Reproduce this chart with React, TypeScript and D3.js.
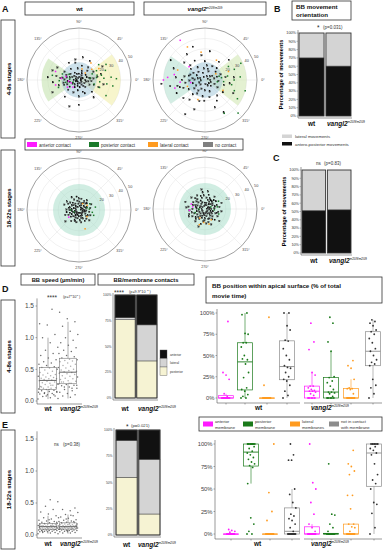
import React, { useEffect, useRef } from 'react';
import { select, scaleLinear, scaleBand, arc, quantile, ascending } from 'd3';

const FONT = '"Liberation Sans", Arial, sans-serif';

// ---- panel A: polar plots, points are [angle in degrees, distance]
const angleTicks = [0, 45, 90, 135, 180, 225, 270, 315];
const ringValues = [10, 20, 30, 40];
const radialLabels = [20, 30, 40, 50];
const contactNames = ['anterior contact', 'posterior contact', 'lateral contact', 'no contact'];
const contactColors = ['#ff1aff', '#1a7a2a', '#ff9b1f', '#808080'];

const wtEarlyNone = [[0,6],[12,10],[24,4],[36,8],[48,12],[60,5],[72,9],[84,3],[96,11],[108,6],[120,8],[132,4],[144,10],[156,7],[168,12],[180,5],[192,9],[204,3],[216,11],[228,6],[240,8],[252,4],[264,10],[276,7],[288,12],[300,5],[312,9],[324,3],[336,11],[348,7],[6,14],[30,16],[54,15],[78,14],[102,17],[126,13],[150,16],[174,18],[198,15],[222,14],[246,13],[270,16],[294,14],[318,17],[342,15],[18,2],[42,3],[66,7],[90,6],[114,2],[138,6],[162,3],[186,2],[210,7],[234,2],[258,6],[282,3],[306,7],[330,6],[354,2],[170,22],[185,25],[160,27],[195,20],[150,24],[205,28],[15,22],[350,24],[30,26],[340,20],[100,20],[270,24],[250,27],[80,22],[120,19],[230,21],[310,22],[60,21],[175,30],[190,15],[165,9],[200,12],[178,14],[10,18],[355,12],[20,8],[172,16],[188,11],[158,13],[8,11],[352,9]];
const wtEarlyPost = [[12,22],[5,31],[352,27],[20,27],[8,17],[28,19],[340,21],[2,36],[25,14],[175,9],[190,13],[160,17],[200,21],[330,30],[38,24],[10,11],[345,15],[182,19],[150,11],[4,24],[350,33],[30,30],[200,6],[170,26],[15,18],[355,20]];
const wtEarlyAnt = [[175,17],[165,13],[186,10],[200,8],[192,23],[212,13],[230,9],[160,24]];
const wtEarlyLat = [[40,16],[55,20],[30,22],[75,11],[48,9]];

const mutEarlyNone = [[0,5],[15,12],[30,8],[45,16],[60,4],[75,11],[90,18],[105,7],[120,14],[135,20],[150,9],[165,16],[180,22],[195,12],[210,18],[225,6],[240,15],[255,21],[270,10],[285,17],[300,23],[315,8],[330,14],[345,19],[8,20],[22,3],[38,13],[52,22],[68,9],[82,14],[98,24],[112,3],[128,10],[142,17],[158,5],[172,12],[188,19],[202,6],[218,13],[232,24],[248,9],[262,16],[278,4],[292,12],[308,19],[322,5],[338,10],[352,24],[5,28],[40,30],[80,28],[125,30],[160,32],[175,28],[190,34],[205,30],[220,27],[250,30],[290,28],[335,30],[150,38],[185,42],[240,38],[300,36],[110,34],[10,9],[35,6],[62,15],[95,11],[118,21],[148,13],[168,7],[182,15],[196,25],[212,10],[238,12],[268,20],[296,6],[326,21],[356,13],[170,20],[178,10],[186,4],[192,27],[160,15],[200,22],[20,16],[340,6],[140,26],[230,18]];
const mutEarlyPost = [[10,22],[350,26],[20,30],[5,34],[340,30],[30,26],[355,18],[15,14],[330,36],[0,28],[345,40],[25,38],[315,45],[300,37],[8,16],[352,12]];
const mutEarlyAnt = [[122,45],[180,40],[176,36],[170,30],[185,24],[195,30],[140,20],[190,14]];
const mutEarlyLat = [[118,36],[98,27],[60,22],[30,12],[200,18],[250,20],[330,20],[20,24],[160,28]];

const wtLateNone = [[0,5],[20,8],[40,6],[60,10],[80,4],[100,9],[120,7],[140,11],[160,5],[180,9],[200,6],[220,10],[240,4],[260,8],[280,12],[300,6],[320,9],[340,4],[10,11],[30,3],[50,12],[70,7],[90,11],[110,3],[130,9],[150,12],[170,3],[190,12],[210,8],[230,3],[250,11],[270,6],[290,3],[310,11],[330,7],[350,10],[5,2],[45,9],[95,6],[135,4],[175,7],[215,5],[255,5],[295,9],[335,12],[15,7],[65,5],[115,11],[165,9],[205,11],[245,8],[285,8],[325,4],[355,7],[25,13],[145,14],[195,4],[235,13],[275,10],[315,14],[160,15],[200,14],[120,14],[220,17],[100,13],[40,10],[8,4],[28,6],[48,3],[88,8],[128,5],[148,8],[168,10],[188,7],[208,3],[228,8],[248,11],[268,3],[288,6],[308,4],[328,10],[348,6],[58,8],[78,11],[138,7],[178,12],[198,9],[238,6],[258,12],[298,12]];
const wtLatePost = [[5,10],[350,13],[15,8],[340,15],[180,8],[200,5],[30,12],[10,16]];
const wtLateAnt = [[215,12]];
const wtLateLat = [[288,19],[30,9],[60,7],[320,10]];

const mutLateNone = [[0,6],[15,10],[30,4],[45,12],[60,8],[75,14],[90,6],[105,11],[120,15],[135,9],[150,13],[165,5],[180,12],[195,8],[210,14],[225,6],[240,11],[255,15],[270,9],[285,13],[300,5],[315,10],[330,14],[345,8],[8,14],[22,3],[38,9],[52,15],[68,4],[82,11],[98,16],[112,7],[128,12],[142,3],[158,10],[172,16],[188,6],[202,11],[218,3],[232,15],[248,7],[262,12],[278,4],[292,16],[308,8],[322,3],[338,11],[352,16],[5,9],[35,13],[65,11],[95,13],[125,6],[155,8],[185,15],[215,9],[245,4],[275,14],[305,12],[335,6],[12,5],[42,7],[72,9],[102,3],[132,14],[162,12],[192,3],[222,12],[252,9],[282,7],[312,14],[342,12],[175,18],[140,17],[205,17],[100,19],[250,18],[20,17],[320,18],[160,20],[195,13],[230,10],[265,6],[295,10],[50,6],[80,17],[3,2],[27,8],[57,10],[87,4],[117,9],[147,5],[177,8],[207,6],[237,8],[267,11],[297,3],[327,8],[357,4],[18,12],[48,10],[78,6],[108,13],[138,11],[168,9],[198,16],[228,13],[258,5],[288,10],[318,6],[348,13]];
const mutLatePost = [[10,12],[355,9],[30,15],[340,14],[200,10],[180,6],[20,6]];
const mutLateAnt = [[170,12],[160,14],[185,15]];
const mutLateLat = [[265,13],[250,16],[285,15],[300,12],[240,10]];

// shaded zones: [startAngle, endAngle, radius, colour]
const earlyWtZones = [[145, 215, 36, '#b9dea0'], [-38, 38, 40, '#efeb9a'], [0, 360, 17, '#9cc4d8']];
const earlyMutZones = [[145, 215, 40, '#a9dcc9'], [-38, 38, 40, '#c9e4a6'], [0, 360, 17, '#9cc4d8']];
const lateZones = [[0, 360, 25, '#a2dcc6']];

// ---- panels B and C: movement orientation (%)
const genotypes = ['wt', 'vangl2'];
const movementNames = ['lateral movements', 'antero-posterior movements'];
const movementColors = ['#d4d4d4', '#111111'];
const apEarly = [70, 60];
const apLate = [51, 52];

// ---- panel D/E: BB speed (um/min)
const speedWtEarly = [0.03,0.05,0.07,0.08,0.1,0.11,0.12,0.13,0.14,0.15,0.16,0.17,0.18,0.19,0.2,0.2,0.21,0.22,0.23,0.25,0.26,0.27,0.28,0.29,0.3,0.31,0.32,0.33,0.34,0.35,0.35,0.36,0.37,0.38,0.39,0.4,0.41,0.42,0.44,0.45,0.47,0.49,0.5,0.52,0.53,0.54,0.56,0.58,0.6,0.62,0.65,0.68,0.72,0.75,0.8,0.85,0.92,1.0,1.05,1.2,1.22,1.45,0.12,0.15,0.18,0.22,0.1,0.08,0.14,0.25];
const speedMutEarly = [0.04,0.06,0.08,0.1,0.12,0.14,0.16,0.18,0.2,0.22,0.24,0.25,0.26,0.27,0.28,0.3,0.31,0.32,0.34,0.35,0.36,0.38,0.39,0.4,0.42,0.43,0.44,0.45,0.46,0.47,0.48,0.49,0.5,0.52,0.53,0.55,0.56,0.58,0.6,0.62,0.63,0.64,0.65,0.66,0.68,0.7,0.72,0.75,0.78,0.8,0.84,0.88,0.92,0.96,1.0,1.05,1.1,1.18,1.25,1.3,1.4,0.2,0.22,0.25,0.28,0.3];
const speedWtLate = [0.02,0.03,0.04,0.04,0.05,0.05,0.06,0.06,0.07,0.07,0.07,0.08,0.08,0.08,0.09,0.09,0.09,0.1,0.1,0.1,0.1,0.11,0.11,0.11,0.12,0.12,0.12,0.12,0.13,0.13,0.13,0.14,0.14,0.14,0.15,0.15,0.15,0.16,0.16,0.16,0.17,0.17,0.18,0.19,0.2,0.21,0.22,0.23,0.25,0.27,0.3,0.33,0.36,0.4,0.45,0.52,0.55,0.06,0.09,0.11,0.13,0.15,0.18,0.2,0.24];
const speedMutLate = [0.02,0.03,0.03,0.04,0.05,0.05,0.06,0.06,0.07,0.07,0.08,0.08,0.08,0.09,0.09,0.09,0.1,0.1,0.1,0.1,0.11,0.11,0.11,0.11,0.12,0.12,0.12,0.12,0.13,0.13,0.13,0.13,0.14,0.14,0.14,0.15,0.15,0.15,0.16,0.16,0.16,0.17,0.17,0.18,0.18,0.19,0.2,0.21,0.22,0.23,0.24,0.26,0.28,0.3,0.32,0.35,0.38,0.4,0.42,0.07,0.09,0.1,0.12,0.14,0.16,0.19,0.21,0.25,0.27,0.31];

// ---- BB/membrane contacts (%), stacked posterior, lateral, anterior
const contactParts = ['posterior', 'lateral', 'anterior'];
const contactPartColors = ['#f6f3d3', '#d4d4d4', '#111111'];
const contactsEarly = [[76, 2, 22], [36, 35, 29]];
const contactsLate = [[55, 35, 10], [20, 52, 28]];

// ---- BB position within apical surface (% of movie time)
const positionNames = ['anterior\nmembrane', 'posterior\nmembrane', 'lateral\nmembranes', 'not in contact\nwith membrane'];
const positionColors = ['#ff1aff', '#1a7a1a', '#ff9b1f', '#8c8c8c'];
const posWtEarly = [
  [0,0,0,0,0,0,0,0,0,0,0,0,0,0,2,5,22,27,30,90],
  [0,0,2,4,8,10,12,24,30,40,46,45,50,60,65,65,75,76,98,100],
  [0,0,0,0,0,0,0,0,0,0,0,0,0,0,0,0,0,0,15,95],
  [0,3,8,15,20,22,25,30,35,36,38,45,50,58,67,68,80,85,100,100],
];
const posMutEarly = [
  [0,0,0,0,0,0,3,5,7,8,8,9,10,12,14,14,27,30,57,66,88],
  [0,0,0,0,0,0,2,5,6,7,7,10,14,18,20,24,25,55,66,88,95],
  [0,0,0,0,0,0,0,0,0,0,0,5,10,11,11,12,22,35,38,44],
  [0,5,12,15,22,38,40,42,45,50,55,58,65,70,75,78,80,85,88,90,92],
];
const posWtLate = [
  [0,0,0,0,0,0,0,0,0,0,0,0,0,0,0,0,0,0,0,0,2,3,4,5],
  [0,0,3,11,18,56,74,76,78,80,83,85,88,90,92,95,97,100,100,100,100,100,100,100,100,100,100,100],
  [0,0,0,0,0,0,0,0,0,0,0,0,0,0,0,0,0,0,15,25,46,100],
  [0,0,0,0,0,0,0,0,0,0,0,0,0,0,3,7,11,15,17,20,22,29,35,44,50,82,82,88,100],
];
const posMutLate = [
  [0,0,0,0,0,0,0,0,0,0,0,0,0,0,0,0,3,7,11,22,35,50,57,100],
  [0,0,0,0,0,0,0,0,0,0,0,0,0,0,0,0,0,0,3,7,11,21,22,78],
  [0,0,0,0,0,0,0,0,0,0,0,0,0,0,0,0,0,0,0,0,3,7,8,11,11,28,43,43,66,70,75,78,93],
  [0,7,23,33,35,50,56,60,66,78,88,90,93,95,97,100,100,100,100,100,100,100,100],
];

const App = () => {
  const svgRef = useRef<SVGSVGElement>(null);

  useEffect(() => {
    const svg = select(svgRef.current);
    svg.selectAll('*').remove();

    const text = (x: number, y: number, s: string, size: number, o: any = {}) =>
      svg.append('text')
        .attr('x', x).attr('y', y)
        .attr('font-size', size)
        .attr('text-anchor', o.anchor || 'start')
        .attr('font-weight', o.bold ? 'bold' : 'normal')
        .attr('fill', o.fill || '#111')
        .text(s);

    const frame = (x: number, y: number, w: number, h: number) =>
      svg.append('rect').attr('x', x).attr('y', y).attr('width', w).attr('height', h)
        .attr('fill', '#fff').attr('stroke', '#333').attr('stroke-width', 0.8);

    const mutLabel = (x: number, y: number, size: number, anchor = 'start') => {
      const t = svg.append('text').attr('x', x).attr('y', y).attr('font-size', size)
        .attr('font-weight', 'bold').attr('text-anchor', anchor).attr('fill', '#111');
      t.append('tspan').attr('font-style', 'italic').text('vangl2');
      t.append('tspan').attr('font-size', size * 0.5).attr('dy', -size * 0.4).attr('font-weight', 'normal').text('m209/m209');
    };

    const rowLabel = (y0: number, y1: number, s: string) => {
      frame(1, y0, 14, y1 - y0);
      svg.append('text')
        .attr('transform', `translate(10.5,${(y0 + y1) / 2}) rotate(-90)`)
        .attr('text-anchor', 'middle').attr('font-size', 6).attr('font-weight', 'bold').text(s);
    };

    // golden-ratio spread used as a horizontal jitter
    const jitter = (i: number, w: number) => ((i * 0.6180339) % 1 - 0.5) * w;

    // ---------- panel A
    text(2, 12, 'A', 9, { bold: true });
    frame(25, 2, 109, 13);
    text(79.5, 11, 'wt', 6, { bold: true, anchor: 'middle' });
    frame(144, 2, 122, 13);
    mutLabel(205, 11, 6, 'middle');
    rowLabel(20, 138, '4-8s stages');
    rowLabel(150, 266, '18-22s stages');

    const drawPolar = (cx: number, cy: number, zones: any[], sets: number[][][]) => {
      const r = scaleLinear().domain([0, 50]).range([0, 52]);
      const g = svg.append('g').attr('transform', `translate(${cx},${cy})`);
      ringValues.forEach(v => g.append('circle').attr('r', r(v)).attr('fill', 'none')
        .attr('stroke', '#e2e2e2').attr('stroke-width', 0.5));
      angleTicks.forEach(a => {
        const t = a * Math.PI / 180;
        g.append('line').attr('x2', r(50) * Math.cos(t)).attr('y2', -r(50) * Math.sin(t))
          .attr('stroke', '#e2e2e2').attr('stroke-width', 0.5);
      });
      const arcGen = arc();
      zones.forEach(([a0, a1, rad, color]) => {
        g.append('path')
          .attr('d', arcGen({ innerRadius: 0, outerRadius: r(rad), startAngle: (90 - a1) * Math.PI / 180, endAngle: (90 - a0) * Math.PI / 180 } as any))
          .attr('fill', color).attr('fill-opacity', 0.5);
      });
      g.append('circle').attr('r', r(50)).attr('fill', 'none').attr('stroke', '#777').attr('stroke-width', 0.7);
      angleTicks.forEach(a => {
        const t = a * Math.PI / 180;
        g.append('text').attr('x', (r(50) + 6) * Math.cos(t)).attr('y', -(r(50) + 6) * Math.sin(t))
          .attr('text-anchor', 'middle').attr('dominant-baseline', 'middle')
          .attr('font-size', 3.6).attr('fill', '#444').text(`${a}°`);
      });
      radialLabels.forEach(v => {
        const t = 24 * Math.PI / 180;
        g.append('text').attr('x', (r(v) + 4) * Math.cos(t)).attr('y', -(r(v) + 4) * Math.sin(t))
          .attr('text-anchor', 'middle').attr('dominant-baseline', 'middle')
          .attr('font-size', 3.8).attr('fill', '#444').text(v);
      });
      // "no contact" first, coloured contacts on top
      [3, 1, 2, 0].forEach(k => {
        g.selectAll(null).data(sets[k]).enter().append('rect')
          .attr('x', d => r(d[1]) * Math.cos(d[0] * Math.PI / 180) - 0.75)
          .attr('y', d => -r(d[1]) * Math.sin(d[0] * Math.PI / 180) - 0.75)
          .attr('width', 1.5).attr('height', 1.5)
          .attr('fill', k === 3 ? '#3a3a3a' : contactColors[k])
          .attr('stroke', k === 3 ? '#111' : 'none').attr('stroke-width', 0.2);
      });
    };

    drawPolar(79, 80, earlyWtZones, [wtEarlyAnt, wtEarlyPost, wtEarlyLat, wtEarlyNone]);
    drawPolar(205, 80, earlyMutZones, [mutEarlyAnt, mutEarlyPost, mutEarlyLat, mutEarlyNone]);
    drawPolar(79, 210, lateZones, [wtLateAnt, wtLatePost, wtLateLat, wtLateNone]);
    drawPolar(205, 209, lateZones, [mutLateAnt, mutLatePost, mutLateLat, mutLateNone]);

    // contact legend
    frame(25, 139, 218, 11);
    const legX = [27, 89, 148, 203];
    contactNames.forEach((n, i) => {
      svg.append('rect').attr('x', legX[i]).attr('y', 142).attr('width', 10).attr('height', 5).attr('fill', contactColors[i]);
      text(legX[i] + 12, 146.6, n, 4.6, { fill: '#333' });
    });

    // ---------- panels B & C
    const drawMovement = (y0: number, y1: number, x0: number, x1: number, ap: number[]) => {
      const y = scaleLinear().domain([0, 100]).range([y1, y0]);
      const x = scaleBand().domain(genotypes).range([x0, x1]).paddingInner(0.07);
      svg.append('line').attr('x1', x0 - 1).attr('x2', x0 - 1).attr('y1', y0 - 3).attr('y2', y1 + 2).attr('stroke', '#555').attr('stroke-width', 0.6);
      svg.append('line').attr('x1', x0 - 1).attr('x2', x1 + 1).attr('y1', y1 + 2).attr('y2', y1 + 2).attr('stroke', '#555').attr('stroke-width', 0.6);
      for (let v = 0; v <= 100; v += 10) {
        svg.append('line').attr('x1', x0 - 2.5).attr('x2', x0 - 1).attr('y1', y(v)).attr('y2', y(v)).attr('stroke', '#555').attr('stroke-width', 0.4);
        text(x0 - 3, y(v) + 1.3, `${v}%`, 3.8, { anchor: 'end', fill: '#333' });
      }
      genotypes.forEach((gname, i) => {
        const bx = x(gname) as number;
        svg.append('rect').attr('x', bx).attr('y', y(100)).attr('width', x.bandwidth()).attr('height', y(0) - y(100))
          .attr('fill', movementColors[0]);
        svg.append('rect').attr('x', bx).attr('y', y(ap[i])).attr('width', x.bandwidth()).attr('height', y(0) - y(ap[i]))
          .attr('fill', movementColors[1]);
        svg.append('line').attr('x1', bx).attr('x2', bx + x.bandwidth()).attr('y1', y(ap[i])).attr('y2', y(ap[i])).attr('stroke', '#444').attr('stroke-width', 0.6);
        svg.append('rect').attr('x', bx).attr('y', y(100)).attr('width', x.bandwidth()).attr('height', y(0) - y(100))
          .attr('fill', 'none').attr('stroke', '#333').attr('stroke-width', 0.9);
      });
      svg.append('text')
        .attr('transform', `translate(${x0 - 16},${(y0 + y1) / 2}) rotate(-90)`)
        .attr('text-anchor', 'middle').attr('font-size', 5.6).attr('font-weight', 'bold').text('Percentage of movements');
      return x;
    };

    text(274, 12, 'B', 9, { bold: true });
    frame(292, 1, 59, 19);
    text(296, 9, 'BB movement', 6.2, { bold: true });
    text(296, 17, 'orientation', 6.2, { bold: true });
    text(317, 30, '*', 6.5, { fill: '#222' });
    text(323, 28.5, '(p=0.031)', 4.5, { fill: '#333' });
    const xb = drawMovement(33, 116, 299, 351, apEarly);
    text((xb('wt') as number) + xb.bandwidth() / 2, 126, 'wt', 6.5, { bold: true, anchor: 'middle' });
    mutLabel(327, 126, 6.5);
    svg.append('rect').attr('x', 282).attr('y', 134.5).attr('width', 10).attr('height', 3.5).attr('fill', movementColors[0]);
    text(295, 138, movementNames[0], 4.3, { fill: '#333' });
    svg.append('rect').attr('x', 282).attr('y', 142).attr('width', 10).attr('height', 3.5).attr('fill', movementColors[1]);
    text(295, 145.5, movementNames[1], 4.3, { fill: '#333' });

    text(273, 161, 'C', 9, { bold: true });
    text(316, 165, 'ns', 4.5, { fill: '#333' });
    text(324, 165, '(p=0.83)', 4.5, { fill: '#333' });
    const xc = drawMovement(170, 253, 302, 351, apLate);
    text((xc('wt') as number) + xc.bandwidth() / 2, 263, 'wt', 6.5, { bold: true, anchor: 'middle' });
    mutLabel(329, 263, 6.5);

    // ---------- panels D & E
    text(2, 292, 'D', 9, { bold: true });
    text(2, 428, 'E', 9, { bold: true });
    frame(21, 274, 74, 11);
    text(58, 282, 'BB speed (µm/min)', 5.8, { bold: true, anchor: 'middle' });
    frame(98, 274, 96, 11);
    text(146, 282, 'BB/membrane contacts', 5.8, { bold: true, anchor: 'middle' });
    frame(206, 277, 176, 26);
    text(212, 288, 'BB position within apical surface (% of total', 6.2, { bold: true });
    text(212, 297.5, 'movie time)', 6.2, { bold: true });
    rowLabel(300, 413, '4-8s stages');
    rowLabel(430, 549, '18-22s stages');

    const boxStats = (vals: number[]) => {
      const s = vals.slice().sort(ascending);
      const q1 = quantile(s, 0.25) as number, med = quantile(s, 0.5) as number, q3 = quantile(s, 0.75) as number;
      const iqr = q3 - q1;
      const lo = s.find(v => v >= q1 - 1.5 * iqr) as number;
      const hi = [...s].reverse().find(v => v <= q3 + 1.5 * iqr) as number;
      return { q1, med, q3, lo, hi };
    };

    const drawSpeed = (yTop: number, yZero: number, groups: number[][]) => {
      const y = scaleLinear().domain([0, 1.5]).range([yZero, yTop]);
      const centers = [48, 68];
      svg.append('line').attr('x1', 37).attr('x2', 37).attr('y1', y(1.62)).attr('y2', yZero + 3).attr('stroke', '#555').attr('stroke-width', 0.6);
      svg.append('line').attr('x1', 37).attr('x2', 82).attr('y1', yZero + 3).attr('y2', yZero + 3).attr('stroke', '#555').attr('stroke-width', 0.6);
      [0, 0.5, 1, 1.5].forEach(v => {
        svg.append('line').attr('x1', 35.5).attr('x2', 37).attr('y1', y(v)).attr('y2', y(v)).attr('stroke', '#555').attr('stroke-width', 0.5);
        text(34, y(v) + 2.3, v.toFixed(1), 6.5, { anchor: 'end', fill: '#444' });
      });
      groups.forEach((vals, gi) => {
        const c = centers[gi];
        svg.append('g').selectAll('circle').data(vals).enter().append('circle')
          .attr('cx', (d, i) => c + jitter(i, 20)).attr('cy', d => y(d)).attr('r', 0.75)
          .attr('fill', '#3a3a3a').attr('fill-opacity', 0.75);
        const b = boxStats(vals);
        svg.append('line').attr('x1', c).attr('x2', c).attr('y1', y(b.hi)).attr('y2', y(b.q3)).attr('stroke', '#777').attr('stroke-width', 0.6);
        svg.append('line').attr('x1', c).attr('x2', c).attr('y1', y(b.q1)).attr('y2', y(b.lo)).attr('stroke', '#777').attr('stroke-width', 0.6);
        svg.append('rect').attr('x', c - 8.5).attr('y', y(b.q3)).attr('width', 17).attr('height', y(b.q1) - y(b.q3))
          .attr('fill', '#fff').attr('fill-opacity', 0.45).attr('stroke', '#777').attr('stroke-width', 0.6);
        svg.append('line').attr('x1', c - 8.5).attr('x2', c + 8.5).attr('y1', y(b.med)).attr('y2', y(b.med)).attr('stroke', '#555').attr('stroke-width', 0.9);
      });
    };

    drawSpeed(306, 401, [speedWtEarly, speedMutEarly]);
    text(47, 299.5, '****', 6.5, { fill: '#333' });
    text(63, 297.5, '(p=7*10', 3.8, { fill: '#333' });
    text(76, 295.5, '-5', 2.5, { fill: '#333' });
    text(79, 297.5, ')', 3.8, { fill: '#333' });
    text(48, 411, 'wt', 6.5, { bold: true, anchor: 'middle' });
    mutLabel(60, 411, 6.5);

    drawSpeed(439, 535, [speedWtLate, speedMutLate]);
    text(54, 446, 'ns', 4.5, { fill: '#333' });
    text(63, 446, '(p=0.38)', 4.5, { fill: '#333' });
    text(48, 546, 'wt', 6.5, { bold: true, anchor: 'middle' });
    mutLabel(60, 546, 6.5);

    const drawContacts = (yTop: number, yBottom: number, x0: number, x1: number, parts: number[][]) => {
      const y = scaleLinear().domain([0, 100]).range([yBottom, yTop]);
      const x = scaleBand().domain(genotypes).range([x0, x1]).paddingInner(0.07);
      svg.append('line').attr('x1', x0 - 2).attr('x2', x0 - 2).attr('y1', yTop - 2).attr('y2', yBottom + 2).attr('stroke', '#555').attr('stroke-width', 0.6);
      svg.append('line').attr('x1', x0 - 2).attr('x2', x1 + 1).attr('y1', yBottom + 2).attr('y2', yBottom + 2).attr('stroke', '#555').attr('stroke-width', 0.6);
      [0, 25, 50, 75, 100].forEach(v => {
        text(x0 - 3.5, y(v) + 1.1, `${v}%`, 3.3, { anchor: 'end', fill: '#444' });
      });
      genotypes.forEach((gname, i) => {
        const bx = x(gname) as number;
        let acc = 0;
        parts[i].forEach((p, k) => {
          svg.append('rect').attr('x', bx).attr('y', y(acc + p)).attr('width', x.bandwidth()).attr('height', y(acc) - y(acc + p))
            .attr('fill', contactPartColors[k]).attr('stroke', '#444').attr('stroke-width', 0.5);
          acc += p;
        });
        svg.append('rect').attr('x', bx).attr('y', y(100)).attr('width', x.bandwidth()).attr('height', y(0) - y(100))
          .attr('fill', 'none').attr('stroke', '#333').attr('stroke-width', 0.9);
      });
      return x;
    };

    const xd = drawContacts(295, 398, 115, 157, contactsEarly);
    text(114, 294.5, '****', 6.5, { fill: '#333' });
    text(129, 292.5, '(p=9.9*10', 3.8, { fill: '#333' });
    text(146.5, 290.5, '-5', 2.5, { fill: '#333' });
    text(149.5, 292.5, ')', 3.8, { fill: '#333' });
    text((xd('wt') as number) + xd.bandwidth() / 2, 411, 'wt', 6.5, { bold: true, anchor: 'middle' });
    mutLabel(138, 411, 6.5);
    // contacts legend
    [2, 1, 0].forEach((k, j) => {
      svg.append('rect').attr('x', 160).attr('y', 350 + j * 8.5).attr('width', 7).attr('height', 8.5)
        .attr('fill', contactPartColors[k]).attr('stroke', '#555').attr('stroke-width', 0.4);
      text(170, 355.5 + j * 8.5, contactParts[k], 3.3, { fill: '#333' });
    });

    const xe = drawContacts(430, 535, 116, 160, contactsLate);
    text(126, 428.5, '*', 6.5, { fill: '#222' });
    text(131, 427, '(p=0.021)', 4.3, { fill: '#333' });
    text((xe('wt') as number) + xe.bandwidth() / 2, 547, 'wt', 6.5, { bold: true, anchor: 'middle' });
    mutLabel(138, 547, 6.5);

    // position boxplots
    const drawPosition = (yTop: number, yZero: number, axisX: number, facetEdges: number[][], centers: number[][], data: number[][][], labelY: number) => {
      const y = scaleLinear().domain([0, 100]).range([yZero, yTop]);
      svg.append('line').attr('x1', axisX).attr('x2', axisX).attr('y1', yTop - 4).attr('y2', yZero + 5).attr('stroke', '#555').attr('stroke-width', 0.6);
      [0, 25, 50, 75, 100].forEach(v => {
        svg.append('line').attr('x1', axisX - 1.5).attr('x2', axisX).attr('y1', y(v)).attr('y2', y(v)).attr('stroke', '#555').attr('stroke-width', 0.5);
        text(axisX - 2.5, y(v) + 2, `${v}%`, 5.8, { anchor: 'end', fill: '#444' });
      });
      facetEdges.forEach(([a, b]) => {
        svg.append('line').attr('x1', a).attr('x2', b).attr('y1', yZero + 5).attr('y2', yZero + 5).attr('stroke', '#555').attr('stroke-width', 0.6);
      });
      data.forEach((groups, f) => {
        groups.forEach((vals, k) => {
          const c = centers[f][k];
          const col = positionColors[k];
          svg.append('line').attr('x1', c).attr('x2', c).attr('y1', yZero + 5).attr('y2', yZero + 6.5).attr('stroke', '#555').attr('stroke-width', 0.5);
          const b = boxStats(vals);
          svg.append('line').attr('x1', c).attr('x2', c).attr('y1', y(b.hi)).attr('y2', y(b.lo)).attr('stroke', col).attr('stroke-width', 0.6);
          svg.append('rect').attr('x', c - 7.5).attr('y', y(b.q3)).attr('width', 15).attr('height', Math.max(0.3, y(b.q1) - y(b.q3)))
            .attr('fill', '#fff').attr('stroke', col).attr('stroke-width', 0.7);
          svg.append('line').attr('x1', c - 7.5).attr('x2', c + 7.5).attr('y1', y(b.med)).attr('y2', y(b.med)).attr('stroke', col).attr('stroke-width', 0.9);
          svg.append('g').selectAll('circle').data(vals).enter().append('circle')
            .attr('cx', (d, i) => c + jitter(i, 8)).attr('cy', d => y(d)).attr('r', 0.9)
            .attr('fill', k === 3 ? '#333' : col);
        });
      });
      text((facetEdges[0][0] + facetEdges[0][1]) / 2, labelY, 'wt', 6.5, { bold: true, anchor: 'middle' });
      mutLabel(facetEdges[1][0] + 7, labelY, 6.5);
    };

    drawPosition(313, 398, 217, [[217, 300], [304, 382]], [[226, 245, 267, 287], [312, 331, 351, 373]], [posWtEarly, posMutEarly], 410);

    // position legend
    frame(199, 417, 183, 14);
    const plX = [203, 243, 290, 329];
    positionNames.forEach((n, i) => {
      svg.append('rect').attr('x', plX[i]).attr('y', 421.5).attr('width', 10).attr('height', 5).attr('fill', positionColors[i]);
      n.split('\n').forEach((line, j) => text(plX[i] + 12, 423 + j * 5.5, line, 4.2, { fill: '#333' }));
    });

    drawPosition(444, 534, 215, [[215, 300], [304, 382]], [[231, 251, 270, 292], [312, 331, 351, 374]], [posWtLate, posMutLate], 546);
  }, []);

  return (
    <div style={{ position: 'absolute', left: 0, top: 0 }}>
      <svg ref={svgRef} width={388} height={550} style={{ display: 'block', background: '#fff', fontFamily: FONT }} />
    </div>
  );
};

export default App;
